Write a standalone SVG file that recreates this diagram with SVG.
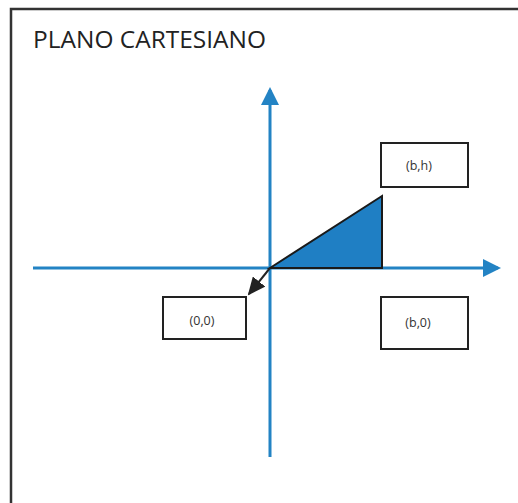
<svg xmlns="http://www.w3.org/2000/svg" width="518" height="503" viewBox="0 0 518 503">
<style>
.box{fill:#fff;stroke:#222;stroke-width:2}
.lbl{font-family:"Open Sans","Liberation Sans",Arial,sans-serif;font-size:12.5px;fill:#333;text-anchor:middle}
.axis{stroke:#2383c4;stroke-width:3;fill:none}
</style>
<defs>
<marker id="ab" markerWidth="6" markerHeight="6" refX="5" refY="3" orient="auto" markerUnits="strokeWidth">
<path d="M0,0 L6,3 L0,6 Z" fill="#2383c4"/>
</marker>
<marker id="ak" markerWidth="9" markerHeight="8" refX="8" refY="4" orient="auto" markerUnits="strokeWidth">
<path d="M0,0 L9,4 L0,8 Z" fill="#222"/>
</marker>
</defs>
<rect width="518" height="503" fill="#fff"/>
<rect x="11" y="9" width="520" height="510" fill="none" stroke="#333" stroke-width="2.5"/>
<text x="33" y="48" font-family="'Open Sans','Liberation Sans',sans-serif" font-size="23" fill="#222" textLength="233" lengthAdjust="spacingAndGlyphs">PLANO CARTESIANO</text>
<g id="connectors">
<line class="axis" x1="270" y1="457" x2="270" y2="90" marker-end="url(#ab)"/>
<line class="axis" x1="33" y1="268" x2="498" y2="268" marker-end="url(#ab)"/>
<polygon points="270,268 382,196 382,268" fill="#1f7fc4" stroke="#1a1a1a" stroke-width="2" stroke-linejoin="miter"/>
<line x1="270" y1="268" x2="249" y2="294" stroke="#222" stroke-width="2" marker-end="url(#ak)"/>
</g>
<g id="node-bh">
<rect class="box" x="381" y="143" width="87" height="44"/>
<text class="lbl" x="419" y="170">(b,h)</text>
</g>
<g id="node-00">
<rect class="box" x="163" y="297" width="83" height="42"/>
<text class="lbl" x="202" y="325">(0,0)</text>
</g>
<g id="node-b0">
<rect class="box" x="381" y="297" width="87" height="52"/>
<text class="lbl" x="418" y="327">(b,0)</text>
</g>
</svg>
